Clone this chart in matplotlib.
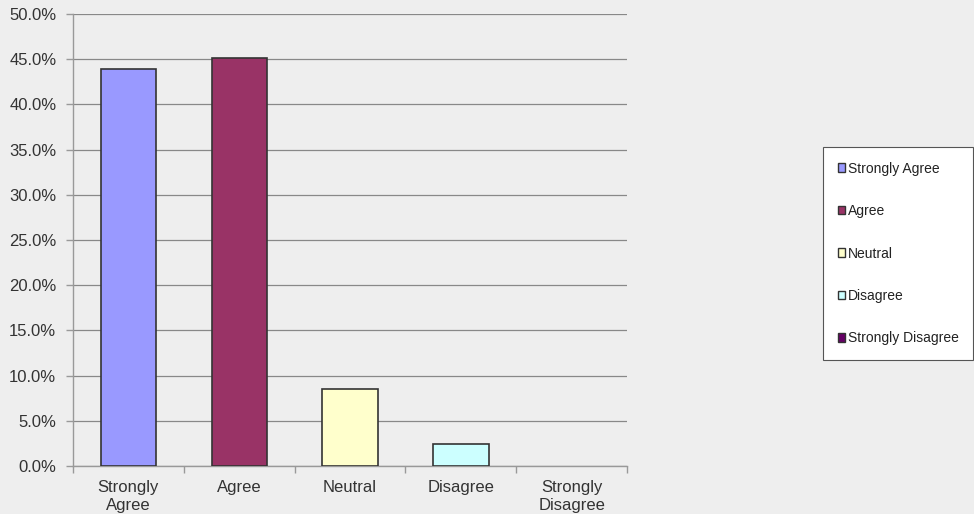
import matplotlib
matplotlib.use("Agg")
import matplotlib.pyplot as plt
from matplotlib.patches import Patch
import numpy as np

categories = ["Strongly\nAgree", "Agree", "Neutral", "Disagree", "Strongly\nDisagree"]
legend_labels = ["Strongly Agree", "Agree", "Neutral", "Disagree", "Strongly Disagree"]
values = [43.9, 45.1, 8.5, 2.4, 0.0]
colors = ["#9999ff", "#993366", "#ffffcc", "#ccffff", "#660066"]
y_ticks = [0, 5, 10, 15, 20, 25, 30, 35, 40, 45, 50]

plt.rcParams["font.family"] = ["Liberation Sans", "DejaVu Sans"]
bg = "#eeeeee"

fig = plt.figure(figsize=(9.74, 5.14), dpi=100, facecolor=bg)
ax = fig.add_axes([73 / 974, 1 - 466 / 514, (627 - 73) / 974, (466 - 14) / 514])
ax.set_facecolor(bg)

x = np.arange(len(values))
edge_widths = [1.2 if v > 0 else 0 for v in values]
ax.bar(x, values, width=0.5, color=colors, edgecolor="#333333",
       linewidth=edge_widths, zorder=3)

ax.set_xlim(-0.5, len(values) - 0.5)
ax.set_ylim(0, 50)
ax.set_yticks(y_ticks)
ax.set_yticklabels([f"{v:.1f}%" for v in y_ticks], fontsize=12, color="#333333")
ax.yaxis.grid(True, color="#888888", linewidth=0.9, zorder=0)

# category boundaries carry the tick marks, labels sit at the category centres
ax.set_xticks(np.arange(len(values) + 1) - 0.5)
ax.set_xticklabels([])
ax.set_xticks(x, minor=True)
ax.set_xticklabels(categories, minor=True, fontsize=12, color="#333333", linespacing=1.3)
ax.tick_params(axis="x", which="minor", length=0, pad=10)
ax.tick_params(axis="x", which="major", length=5, color="#999999", width=1)
ax.tick_params(axis="y", length=5, color="#999999", width=1, pad=7)

for side in ["top", "right"]:
    ax.spines[side].set_visible(False)
for side in ["left", "bottom"]:
    ax.spines[side].set_color("#999999")
    ax.spines[side].set_linewidth(1)

handles = [Patch(facecolor=c, edgecolor="#333333", linewidth=1.0) for c in colors]
leg = fig.legend(handles, legend_labels, loc="upper left",
                 bbox_to_anchor=(823 / 974, 1 - 147 / 514), bbox_transform=fig.transFigure,
                 borderaxespad=0, fontsize=10, frameon=True, fancybox=False, framealpha=1,
                 handlelength=0.55, handleheight=0.55, handletextpad=0.2,
                 labelspacing=2.05, borderpad=1.05, labelcolor="#222222")
leg.get_frame().set_edgecolor("#555555")
leg.get_frame().set_linewidth(0.8)
leg.get_frame().set_facecolor("white")

fig.savefig("out.png", dpi=100, facecolor=bg)
